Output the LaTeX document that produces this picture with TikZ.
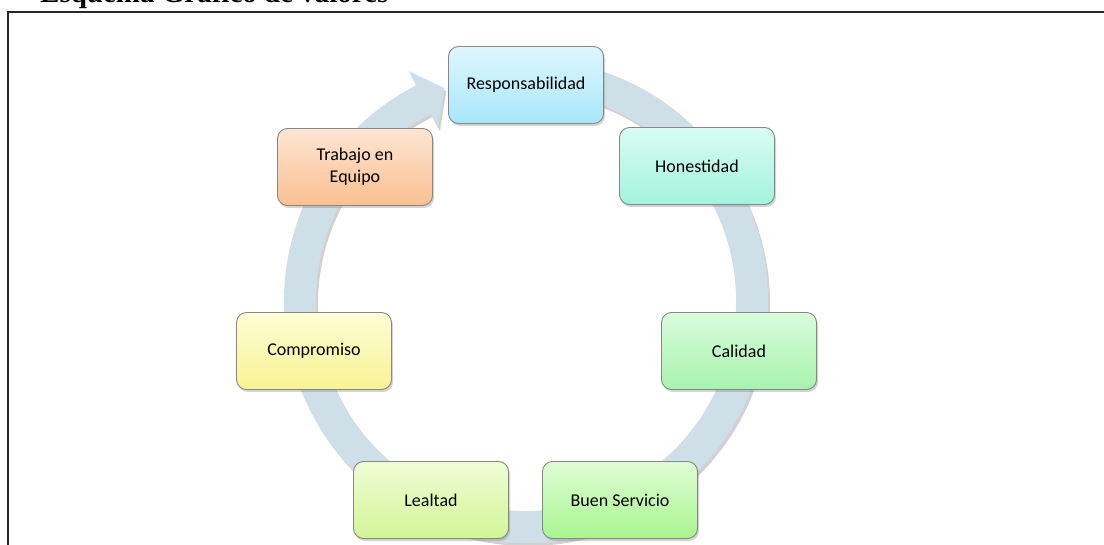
\documentclass[tikz,border=0pt]{standalone}
\usepackage{fontspec}
\setmainfont{Carlito}
\newfontfamily\titlefont{Liberation Serif}
\usetikzlibrary{shadows}
\definecolor{ringc}{RGB}{207,223,231}
\definecolor{boxborder}{RGB}{135,135,135}
\definecolor{frame}{RGB}{40,40,40}
\definecolor{rT}{RGB}{222,246,253}\definecolor{rB}{RGB}{168,231,252}
\definecolor{hT}{RGB}{217,252,241}\definecolor{hB}{RGB}{163,243,221}
\definecolor{cT}{RGB}{217,252,220}\definecolor{cB}{RGB}{166,243,173}
\definecolor{bT}{RGB}{222,252,212}\definecolor{bB}{RGB}{168,245,143}
\definecolor{lT}{RGB}{239,252,214}\definecolor{lB}{RGB}{211,245,150}
\definecolor{mT}{RGB}{253,253,212}\definecolor{mB}{RGB}{248,243,148}
\definecolor{tT}{RGB}{253,229,210}\definecolor{tB}{RGB}{251,192,145}
\begin{document}
\begin{tikzpicture}[x=1pt,y=-1pt,
  valbox/.style={draw=boxborder, line width=0.9pt, rounded corners=10pt,
    minimum width=155pt, minimum height=77pt, align=center, text=black,
    font=\fontsize{18}{22}\selectfont,
    drop shadow={shadow xshift=1.5pt, shadow yshift=-2.5pt, opacity=0.35}},
  framel/.style={draw=frame, line width=1.1pt}]
\useasboundingbox (0,0) rectangle (1104,545);
\clip (0,0) rectangle (1104,545);
% title (cut off at the top)
\node[anchor=base west, inner sep=0pt, font=\titlefont\bfseries\fontsize{29}{32}\selectfont] (title) at (40,2.5) {Esquema Gráfico de valores};
% frame
\draw[framel] (1104,12) -- (8,12) -- (8,545);
% ring arrow
\begin{scope}[shift={(526,301)}]
  \fill[black, opacity=0.18] ([shift={(2,3)}]-85:242) arc[start angle=-85, end angle=243, radius=242]
    -- ([shift={(2,3)}]243:258) -- ([shift={(2,3)}]249:228) -- ([shift={(2,3)}]243:194)
    -- ([shift={(2,3)}]243:210) arc[start angle=243, end angle=-85, radius=210] -- cycle;
  \fill[ringc] (-85:242) arc[start angle=-85, end angle=243, radius=242]
    -- (243:258) -- (249:228) -- (243:194)
    -- (243:210) arc[start angle=243, end angle=-85, radius=210] -- cycle;
\end{scope}
% boxes
\node[valbox, top color=rT, bottom color=rB] (resp) at (526,85) {Responsabilidad};
\node[valbox, top color=hT, bottom color=hB] (hon) at (697,166) {Honestidad};
\node[valbox, top color=cT, bottom color=cB] (cal) at (739,351) {Calidad};
\node[valbox, top color=bT, bottom color=bB] (buen) at (620,500) {Buen Servicio};
\node[valbox, top color=lT, bottom color=lB] (leal) at (431,500) {Lealtad};
\node[valbox, top color=mT, bottom color=mB] (comp) at (314,351) {Compromiso};
\node[valbox, top color=tT, bottom color=tB] (trab) at (355,167) {Trabajo en\\Equipo};
\end{tikzpicture}
\end{document}
